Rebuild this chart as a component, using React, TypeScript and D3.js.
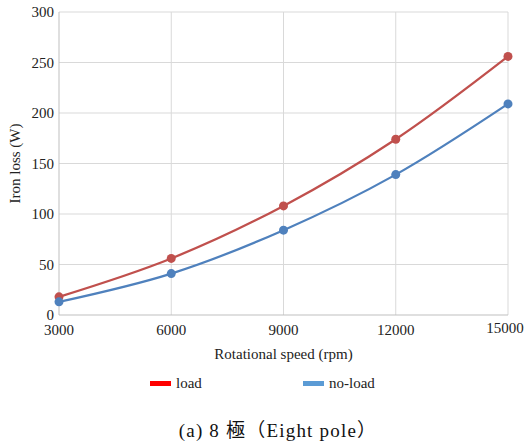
import React, { useEffect, useRef } from 'react';
import * as d3 from 'd3';

const speeds = [3000, 6000, 9000, 12000, 15000];
const loadValues = [18, 56, 108, 174, 256];
const noLoadValues = [13, 41, 84, 139, 209];
const yTicks = [0, 50, 100, 150, 200, 250, 300];

const W = 526;
const H = 443;
const margin = { top: 12, right: 18, bottom: 128, left: 59 };

export default function App() {
    const ref = useRef<SVGSVGElement>(null);

    useEffect(() => {
        const svg = d3.select(ref.current);
        svg.selectAll('*').remove();

        const width = W - margin.left - margin.right;
        const height = H - margin.top - margin.bottom;
        const font = "'Liberation Serif', 'DejaVu Serif', Times, serif";

        const x = d3.scaleLinear().domain([3000, 15000]).range([0, width]);
        const y = d3.scaleLinear().domain([0, 300]).range([height, 0]);

        const g = svg.append('g').attr('transform', `translate(${margin.left},${margin.top})`);

        // grid
        g.selectAll('.hgrid').data(yTicks.slice(1)).enter().append('line')
            .attr('x1', 0).attr('x2', width)
            .attr('y1', d => y(d)).attr('y2', d => y(d))
            .attr('stroke', '#d9d9d9').attr('stroke-width', 1);
        g.selectAll('.vgrid').data(speeds.slice(1)).enter().append('line')
            .attr('x1', d => x(d)).attr('x2', d => x(d))
            .attr('y1', 0).attr('y2', height)
            .attr('stroke', '#d9d9d9').attr('stroke-width', 1);

        // axis lines
        g.append('line').attr('x1', 0).attr('x2', 0).attr('y1', 0).attr('y2', height)
            .attr('stroke', '#bfbfbf');
        g.append('line').attr('x1', 0).attr('x2', width).attr('y1', height).attr('y2', height)
            .attr('stroke', '#bfbfbf');

        // tick labels
        g.selectAll('.ylab').data(yTicks).enter().append('text')
            .attr('x', -5).attr('y', d => y(d)).attr('dy', '0.35em')
            .attr('text-anchor', 'end')
            .attr('font-family', font).attr('font-size', 15).attr('fill', '#222')
            .text(d => d);
        // last label pulled in so it stays inside the picture
        g.selectAll('.xlab').data(speeds).enter().append('text')
            .attr('x', d => Math.min(x(d), width - 3)).attr('y', d => d === 15000 ? height + 18 : height + 20)
            .attr('text-anchor', 'middle')
            .attr('font-family', font).attr('font-size', 15).attr('fill', '#222')
            .text(d => d);

        // axis titles
        g.append('text')
            .attr('x', width / 2).attr('y', height + 44)
            .attr('text-anchor', 'middle')
            .attr('font-family', font).attr('font-size', 15).attr('fill', '#222')
            .text('Rotational speed (rpm)');
        g.append('text')
            .attr('transform', `translate(${-39},${height / 2}) rotate(-90)`)
            .attr('text-anchor', 'middle')
            .attr('font-family', font).attr('font-size', 15).attr('fill', '#222')
            .text('Iron loss (W)');

        const line = d3.line<number>()
            .x((_, i) => x(speeds[i]))
            .y(d => y(d))
            .curve(d3.curveCatmullRom.alpha(0.5));

        const series = [
            { name: 'load', values: loadValues, color: '#c0504d', legend: '#ff0000' },
            { name: 'no-load', values: noLoadValues, color: '#4f81bd', legend: '#5b9bd5' },
        ];

        series.forEach(s => {
            g.append('path').datum(s.values)
                .attr('d', line)
                .attr('fill', 'none')
                .attr('stroke', s.color)
                .attr('stroke-width', 2.25);
            g.selectAll(null).data(s.values).enter().append('circle')
                .attr('cx', (_, i) => x(speeds[i]))
                .attr('cy', d => y(d))
                .attr('r', 4.5)
                .attr('fill', s.color);
        });

        // legend
        const legendX = [150, 303];
        series.forEach((s, i) => {
            svg.append('rect')
                .attr('x', legendX[i]).attr('y', 381)
                .attr('width', 21).attr('height', 5)
                .attr('fill', s.legend);
            svg.append('text')
                .attr('x', legendX[i] + 26).attr('y', 388)
                .attr('font-family', font).attr('font-size', 15).attr('fill', '#222')
                .text(s.name);
        });

        // caption
        svg.append('text')
            .attr('x', 278).attr('y', 437)
            .attr('text-anchor', 'middle')
            .attr('font-family', "'Liberation Serif', 'DejaVu Serif', 'Noto Sans CJK JP', serif")
            .attr('font-size', 19).attr('letter-spacing', 1.2).attr('fill', '#111')
            .text('(a) 8 極（Eight pole）');
    }, []);

    return (
        <svg ref={ref} width={W} height={H}
            style={{ position: 'absolute', left: 0, top: 0, background: '#fff' }} />
    );
}
